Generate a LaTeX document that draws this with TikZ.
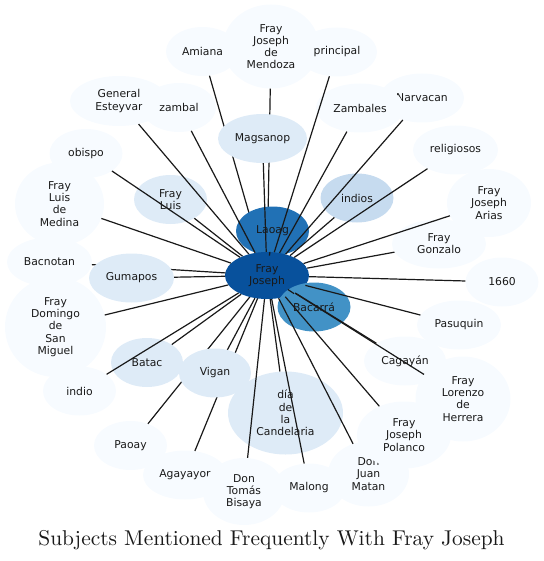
\documentclass[tikz,border=0pt]{standalone}
\usepackage{fontspec}
\newfontfamily\subjfont{DejaVu Sans}
\newfontfamily\titlefont{lmroman10-regular.otf}
\usetikzlibrary{shapes.geometric}
\definecolor{blues0}{RGB}{247,251,255}
\definecolor{blues1}{RGB}{222,235,247}
\definecolor{blues2}{RGB}{198,219,239}
\definecolor{blues4}{RGB}{66,146,198}
\definecolor{blues5}{RGB}{33,113,181}
\definecolor{blues6}{RGB}{8,81,156}

\begin{document}
\begin{tikzpicture}[
  x=1pt,y=-1pt,
  every node/.style={font=\subjfont\fontsize{10.8}{12.2}\selectfont,text=black!90},
  subj/.style={ellipse,inner sep=0pt,minimum width=73pt,minimum height=49pt,
    align=center,fill=blues0},
  link/.style={line width=1.2pt,black!90}
]
\useasboundingbox (0,0) rectangle (543,561);

% outer subjects
\node[subj] (amiana) at (202.5,51.5) {Amiana};
\node[subj,minimum width=96pt,minimum height=84pt] (mendoza) at (271,46.5) {Fray\\Joseph\\de\\Mendoza};
\node[subj,minimum width=80pt] (principal) at (337,52) {principal};
\node[subj,minimum width=98pt,minimum height=50pt] (esteyvar) at (119,101) {General\\Esteyvar};
\node[subj,minimum width=74pt] (zambal) at (179,107.5) {zambal};
\node[subj,minimum width=84pt] (narvacan) at (422,98) {Narvacan};
\node[subj,minimum width=88pt] (zambales) at (360,108) {Zambales};
\node[subj,minimum width=85pt] (religiosos) at (455.5,150) {religiosos};
\node[subj] (obispo) at (86,153.5) {obispo};
\node[subj,minimum width=89pt,minimum height=83pt] (medina) at (59.5,204) {Fray\\Luis\\de\\Medina};
\node[subj,minimum width=85pt] (bacnotan) at (49.5,262) {Bacnotan};
\node[subj,minimum width=101pt,minimum height=100pt] (domingo) at (55.5,327) {Fray\\Domingo\\de\\San\\Miguel};
\node[subj] (indio) at (79.5,391) {indio};
\node[subj] (paoay) at (130.5,445.5) {Paoay};
\node[subj,minimum width=84pt] (agayayor) at (185,475) {Agayayor};
\node[subj,minimum width=82pt,minimum height=67pt] (bisaya) at (244,491.5) {Don\\Tomás\\Bisaya};
\node[subj] (malong) at (309,488) {Malong};
\node[subj,minimum width=81pt,minimum height=65pt] (matan) at (368.5,474) {Don\\Juan\\Matan};
\node[subj,minimum width=94pt,minimum height=67pt] (polanco) at (404,435) {Fray\\Joseph\\Polanco};
\node[subj,minimum width=82pt] (cagayan) at (405,361) {Cagayán};
\node[subj,minimum width=95pt,minimum height=85pt] (herrera) at (463,399) {Fray\\Lorenzo\\de\\Herrera};
\node[subj,minimum width=84pt] (pasuquin) at (459,325) {Pasuquin};
\node[subj] (y1660) at (502,282) {1660};
\node[subj,minimum width=94pt] (gonzalo) at (439,244) {Fray\\Gonzalo};
\node[subj,minimum width=84pt,minimum height=68pt] (arias) at (489,203) {Fray\\Joseph\\Arias};

\coordinate (hub) at (267,275.5);
% these run under the nodes drawn next
\foreach \t in {bacnotan,paoay,agayayor,mendoza,amiana}
  \draw[link] (hub) -- (\t);

% inner subjects
\node[subj,fill=blues5] (laoag) at (272.5,231) {Laoag};
\node[subj,fill=blues6,minimum width=84pt,minimum height=47pt] (fj) at (267,275.5) {Fray\\Joseph};
\node[subj,fill=blues4] (bacarra) at (314,307) {Bacarrá};
\node[subj,fill=blues1,minimum width=89pt] (magsanop) at (262.5,138.5) {Magsanop};
\node[subj,fill=blues1,minimum width=85pt] (gumapos) at (131.5,278) {Gumapos};
\node[subj,fill=blues1,minimum width=72pt] (batac) at (147,362.5) {Batac};
\node[subj,fill=blues1,minimum width=72pt] (vigan) at (215,373) {Vigan};
\node[subj,fill=blues1] (fluis) at (170.5,199.5) {Fray\\Luis};
\node[subj,fill=blues2] (indios) at (357,198) {indios};
\node[subj,fill=blues1,minimum width=115pt,minimum height=83pt] (candelaria) at (285.5,413) {día\\de\\la\\Candelaria};

\foreach \t in {laoag,bacarra,magsanop,gumapos,batac,vigan,fluis,indios,candelaria,
    principal,esteyvar,zambal,narvacan,zambales,religiosos,obispo,medina,domingo,
    indio,bisaya,malong,matan,polanco,cagayan,herrera,pasuquin,y1660,gonzalo,arias}
  \draw[link] (fj) -- (\t);

\node[font=\titlefont\fontsize{21.4}{25}\selectfont,anchor=base] (title) at (271.5,545.7)
  {Subjects Mentioned Frequently With Fray Joseph};
\end{tikzpicture}
\end{document}
